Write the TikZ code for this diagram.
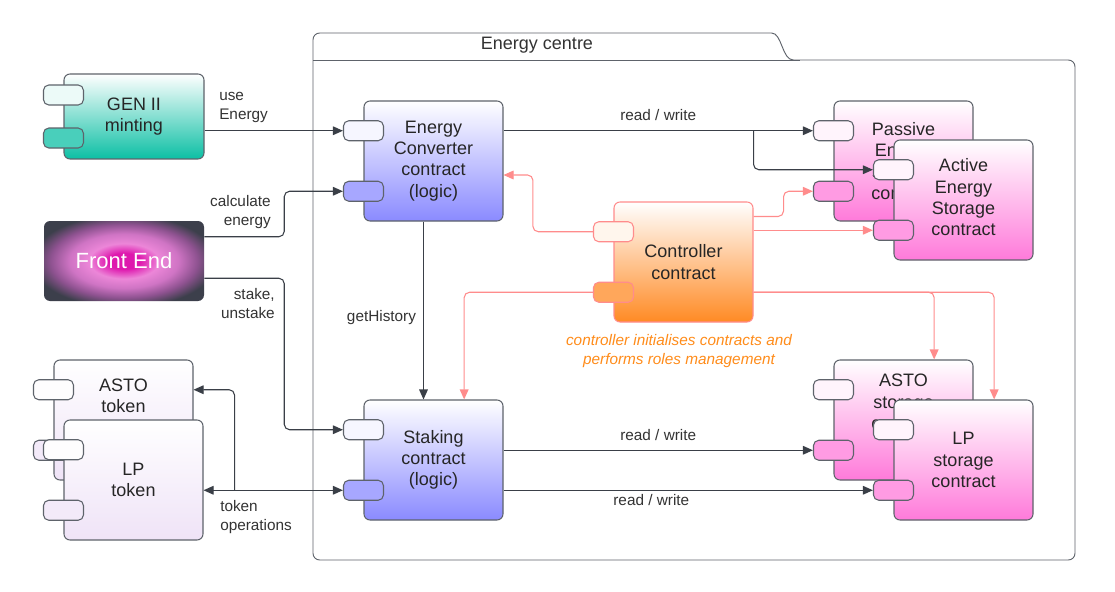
\documentclass[tikz,border=0pt]{standalone}
\usepackage{fontspec}
\setmainfont{Liberation Sans}
\usetikzlibrary{arrows.meta,calc,positioning}

\definecolor{boxgray}{HTML}{5E636B}
\definecolor{wiredark}{HTML}{3A3F47}
\definecolor{ctrlpink}{HTML}{FF8C8C}
\definecolor{txtgray}{HTML}{333333}
\definecolor{noteorange}{HTML}{FF8C1A}
\definecolor{tealc}{HTML}{0CBFA4}
\definecolor{violetc}{HTML}{8A8AFF}
\definecolor{amberc}{HTML}{FF8A24}
\definecolor{rosec}{HTML}{FF7ADA}
\definecolor{lilacc}{HTML}{EFE3F7}
\definecolor{femag}{HTML}{DE18AE}
\definecolor{fepink}{HTML}{EC86D8}
\definecolor{femid}{HTML}{CF74C4}
\definecolor{feplum}{HTML}{8E5290}
\definecolor{fedark}{HTML}{3C3F4B}

\pgfdeclareradialshading{feglow}{\pgfpoint{0bp}{0bp}}{color(0bp)=(femag); color(5bp)=(femag); color(11bp)=(fepink); color(17bp)=(femid); color(23bp)=(feplum); color(29bp)=(fedark); color(50bp)=(fedark)}

\newcommand{\compfont}{\fontsize{13.5}{16}\selectfont}
\newcommand{\lblfont}{\fontsize{11.5}{14.25}\selectfont}

\tikzset{compbody/.style={draw=boxgray, line width=0.8pt, rounded corners=4.5pt,
		minimum width=104.25pt, minimum height=90pt, inner sep=0pt,
		top color=white, middle color=#1!30, bottom color=#1}}
\tikzstyle{port} = [draw=boxgray, line width=0.8pt, rounded corners=4pt, minimum width=30pt, minimum height=15pt, inner sep=0pt]
\tikzstyle{comptext} = [align=center, font=\compfont, text=black!85, inner sep=0pt]
\tikzstyle{wire} = [draw=wiredark, line width=0.8pt, rounded corners=4pt]
\tikzstyle{ctrl} = [draw=ctrlpink, line width=0.8pt, rounded corners=4pt]
\tikzstyle{lbl} = [font=\lblfont, text=txtgray, inner sep=0pt]
\tikzstyle{frontend} = [rounded corners=4.5pt, minimum width=120pt, minimum height=60pt, shade, shading=feglow, text=white, font=\fontsize{16.5}{20}\selectfont]

\begin{document}
\begin{tikzpicture}[x=0.75pt, y=-0.75pt, >={Triangle[length=7.5pt,width=6.5pt]}]
		\useasboundingbox (0,0) rectangle (1115,592);
		\fill[white] (0,0) rectangle (1115,592);
		
		% energy centre package
		\draw[boxgray, line width=0.7pt, rounded corners=5pt] (313,60) -- (313,33) -- (765,33)
		.. controls (782,33) and (782,60) .. (800,60) -- (1075,60) -- (1075,560) -- (313,560) -- cycle;
		\draw[boxgray, line width=0.7pt] (313,60) -- (800,60);
		\node[font=\compfont, text=txtgray] (ectitle) at (537,45) {Energy centre};
		
		\node[compbody=tealc, minimum width=105pt, minimum height=63.75pt] (gen) at (134,116.5) {};
		\node[port, fill=tealc!8] (gen-a) at ($(gen.north west)!.25!(gen.south west)$) {};
		\node[port, fill=tealc!75] (gen-b) at ($(gen.north west)!.75!(gen.south west)$) {};
		\node[comptext] (gen-t) at (gen.center) {GEN II\\minting};
		
		\node[frontend] (fe) at (124,261) {Front End};
		
		\foreach \nm/\xx/\yy/\col/\bd/\dy/\txt in {
			ec/433.5/161/violetc/boxgray/0pt/{Energy\\Converter\\contract\\(logic)},
			stk/433.5/460/violetc/boxgray/0pt/{Staking\\contract\\(logic)},
			ctl/683.5/262/amberc/ctrlpink/0pt/{Controller\\contract},
			pes/903.5/161/rosec/boxgray/0pt/{Passive\\Energy\\Storage\\contract},
			aes/963.5/200/rosec/boxgray/2pt/{Active\\Energy\\Storage\\contract},
			ast/903.5/420/rosec/boxgray/13.5pt/{ASTO\\storage\\contract},
			lps/963.5/460/rosec/boxgray/0pt/{LP\\storage\\contract},
			astok/123.5/420/lilacc/boxgray/18pt/{ASTO\\token},
			lptok/133.5/480/lilacc/boxgray/0pt/{LP\\token}}
		{
			\node[compbody=\col, draw=\bd] (\nm) at (\xx,\yy) {};
			\node[port, draw=\bd, fill=\col!8] (\nm-a) at ($(\nm.north west)!.25!(\nm.south west)$) {};
			\node[port, draw=\bd, fill=\col!75] (\nm-b) at ($(\nm.north west)!.75!(\nm.south west)$) {};
			\node[comptext] (\nm-t) at ([yshift=\dy]\nm.center) {\txt};
		}
		
		% left side
		\draw[wire,->] (gen.east |- ec-a) -- (ec-a.west);
		\draw[wire,->] ([yshift=-12pt]fe.north east) -- ++(80,0) |- (ec-b.west);
		\draw[wire,->] ([yshift=17.25pt]fe.south east) -- ++(80,0) |- (stk-a.west);
		\draw[wire,->] ([xshift=-7.5pt]ec.south) -- ([xshift=-7.5pt]stk.north);
		
		\coordinate (tokfork) at ($(lptok.east |- stk-b)+(31,0)$);
		\draw[wire,<->] (lptok.east |- stk-b) -- (stk-b.west);
		\draw[wire,->] (tokfork) |- (astok.east |- astok-a);
		
		% storage
		\draw[wire,->] (ec.east |- ec-a) -- node[lbl, above=7pt] (rw1) {read / write} (pes-a.west);
		\coordinate (rwfork) at ($(ec.east |- ec-a)+(250,0)$);
		\draw[wire,->] (rwfork) |- (aes-a.west);
		\draw[wire,->] (stk.east |- ast-b) -- node[lbl, above=7pt] (rw2) {read / write} (ast-b.west);
		\draw[wire,->] (stk.east |- lps-b) -- node[lbl, below=3pt, pos=.4] (rw3) {read / write} (lps-b.west);
		
		% controller
		\draw[ctrl,->] (ctl-a.west) -- ++(-60,0) |- ([yshift=-10.5pt]ec.east);
		\draw[ctrl,->] ([yshift=-11.25pt]ctl.north east) -- ++(30,0) |- (pes-b.west);
		\draw[ctrl,->] (ctl.east |- aes-b) -- (aes-b.west);
		\draw[ctrl,->] (ctl-b.west) -| ([xshift=23pt]stk.north);
		\draw[ctrl,->] (ctl.east |- ctl-b) -| ([xshift=23pt]ast.north);
		\draw[ctrl,->] (ctl.east |- ctl-b) -| ([xshift=23pt]lps.north);
		
		\node[lbl, anchor=west, align=left] (uselbl) at (219,107) {use\\Energy};
		\node[lbl, anchor=east, align=right] (calclbl) at (271,212) {calculate\\energy};
		\node[lbl, anchor=east, align=right] (stakelbl) at (275,304) {stake,\\unstake};
		\node[lbl] (histlbl) at (381.5,318) {getHistory};
		\node[lbl, anchor=west, align=left] (toklbl) at (220,517) {token\\operations};
		\node[lbl, text=noteorange, font=\lblfont\itshape, align=center] (note) at (679,351) {controller initialises contracts and\\performs roles management};
		
	\end{tikzpicture}
\end{document}
